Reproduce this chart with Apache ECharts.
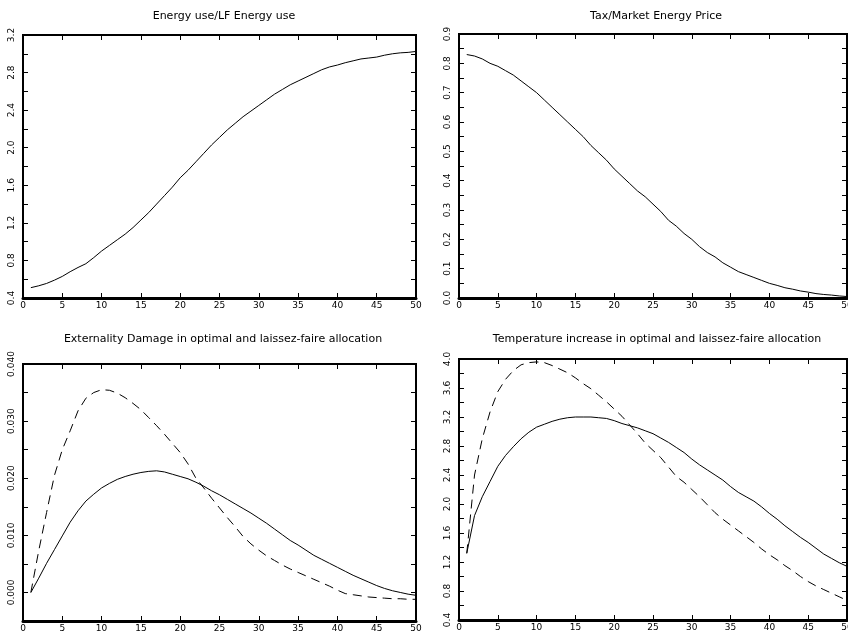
<!DOCTYPE html>
<html lang="en">
  <head>
    <meta charset="UTF-8" />
    <title>Optimal vs laissez-faire</title>
    <script src="https://cdn.jsdelivr.net/npm/echarts@6/dist/echarts.min.js"></script>
    <style>
      html, body { margin: 0; padding: 0; background: #fff; }
      #chart { width: 848px; height: 639px; }
    </style>
  </head>
  <body>
    <div id="chart"></div>
    <script>
      // periods 1..50
      var periods = [1, 2, 3, 4, 5, 6, 7, 8, 9, 10, 11, 12, 13, 14, 15, 16, 17, 18, 19, 20,
        21, 22, 23, 24, 25, 26, 27, 28, 29, 30, 31, 32, 33, 34, 35, 36, 37, 38, 39, 40,
        41, 42, 43, 44, 45, 46, 47, 48, 49, 50];

      var energyRatio = [0.51, 0.53, 0.555, 0.59, 0.63, 0.68, 0.725, 0.765, 0.83, 0.9,
        0.96, 1.02, 1.08, 1.15, 1.23, 1.31, 1.40, 1.49, 1.58, 1.68,
        1.76, 1.85, 1.94, 2.03, 2.11, 2.19, 2.26, 2.33, 2.39, 2.45,
        2.51, 2.57, 2.62, 2.67, 2.71, 2.75, 2.79, 2.83, 2.86, 2.88,
        2.905, 2.925, 2.945, 2.955, 2.965, 2.985, 3.0, 3.01, 3.015, 3.025];

      var taxPrice = [0.83, 0.825, 0.815, 0.80, 0.79, 0.775, 0.76, 0.74, 0.72, 0.70,
        0.675, 0.65, 0.625, 0.60, 0.575, 0.55, 0.52, 0.495, 0.47, 0.44,
        0.415, 0.39, 0.365, 0.345, 0.32, 0.295, 0.265, 0.245, 0.22, 0.20,
        0.175, 0.155, 0.14, 0.12, 0.105, 0.09, 0.08, 0.07, 0.06, 0.05,
        0.043, 0.035, 0.03, 0.024, 0.02, 0.015, 0.012, 0.01, 0.007, 0.005];

      var damageOpt = [0.0, 0.0025, 0.0051, 0.0075, 0.0099, 0.0123, 0.0143, 0.0160, 0.0172, 0.0183,
        0.0191, 0.0198, 0.0203, 0.0207, 0.0210, 0.0212, 0.0213, 0.0211, 0.0207, 0.0203,
        0.0199, 0.0193, 0.0186, 0.0178, 0.0171, 0.0163, 0.0155, 0.0147, 0.0139, 0.0130,
        0.0121, 0.0111, 0.0101, 0.0091, 0.0083, 0.0074, 0.0065, 0.0058, 0.0051, 0.0044,
        0.0037, 0.0030, 0.0024, 0.0018, 0.0012, 0.0007, 0.0003, 0.0, -0.0003, -0.0005];

      var damageLF = [0.0, 0.0073, 0.0140, 0.0205, 0.0250, 0.0283, 0.0318, 0.0340, 0.0350, 0.0355,
        0.0354, 0.0349, 0.0341, 0.0331, 0.0320, 0.0306, 0.0292, 0.0277, 0.0261, 0.0245,
        0.0225, 0.0200, 0.0183, 0.0165, 0.0148, 0.0131, 0.0115, 0.0098, 0.0085, 0.0074,
        0.0064, 0.0056, 0.0048, 0.0041, 0.0035, 0.0029, 0.0023, 0.0017, 0.0011, 0.0004,
        -0.0002, -0.0004, -0.0006, -0.0008, -0.0009, -0.0010, -0.0011, -0.0011, -0.0012, -0.0012];

      var tempOpt = [1.32, 1.84, 2.10, 2.31, 2.52, 2.67, 2.79, 2.90, 2.99, 3.06,
        3.10, 3.14, 3.17, 3.19, 3.20, 3.20, 3.20, 3.19, 3.18, 3.15,
        3.11, 3.08, 3.05, 3.01, 2.97, 2.91, 2.85, 2.78, 2.71, 2.62,
        2.54, 2.47, 2.40, 2.33, 2.24, 2.16, 2.10, 2.04, 1.96, 1.87,
        1.79, 1.70, 1.62, 1.54, 1.47, 1.39, 1.31, 1.25, 1.19, 1.14];

      var tempLF = [1.32, 2.40, 2.90, 3.27, 3.55, 3.72, 3.84, 3.92, 3.95, 3.96,
        3.95, 3.91, 3.86, 3.81, 3.74, 3.66, 3.59, 3.50, 3.41, 3.31,
        3.21, 3.09, 2.97, 2.84, 2.74, 2.64, 2.51, 2.38, 2.30, 2.20,
        2.10, 1.99, 1.88, 1.79, 1.71, 1.63, 1.55, 1.47, 1.38, 1.30,
        1.23, 1.15, 1.08, 1.00, 0.93, 0.87, 0.82, 0.77, 0.72, 0.67];

      var titles = [
        "Energy use/LF Energy use",
        "Tax/Market Energy Price",
        "Externality Damage in optimal and laissez-faire allocation",
        "Temperature increase in optimal and laissez-faire allocation",
      ];

      // y scales: [min, max, tick step, label step, decimals]
      var yScales = [
        [0.4, 3.2, 0.2, 0.4, 1],
        [0.0, 0.9, 0.05, 0.1, 1],
        [-0.005, 0.04, 0.005, 0.01, 3],
        [0.4, 4.0, 0.2, 0.4, 1],
      ];

      var grids = [
        { left: 23, top: 35, width: 393, height: 263 },
        { left: 459, top: 34, width: 388, height: 264 },
        { left: 23, top: 364, width: 393, height: 257 },
        { left: 459, top: 359, width: 388, height: 261 },
      ];
      var titleCenters = [[219, 6], [651, 6], [218, 329], [652, 329]];

      function pairs(ys) {
        return periods.map(function (p, i) { return [p, ys[i]]; });
      }

      var font = "DejaVu Sans";
      var option = {
        animation: false,
        backgroundColor: "#fff",
        title: [],
        grid: [],
        xAxis: [],
        yAxis: [],
        series: [],
      };

      grids.forEach(function (g, i) {
        option.grid.push(Object.assign({
          show: true, borderColor: "#000", borderWidth: 2,
          containLabel: false, outerBoundsMode: "none",
        }, g));
        option.title.push({
          text: titles[i],
          left: titleCenters[i][0],
          top: titleCenters[i][1],
          textAlign: "center",
          textStyle: { fontFamily: font, fontSize: 11, fontWeight: "normal", color: "#000" },
        });
        var tick = { show: true, inside: true, length: 5, lineStyle: { color: "#000", width: 1 } };
        var line = { show: true, onZero: false, lineStyle: { color: "#000", width: 2 } };
        option.xAxis.push({
          gridIndex: i, type: "value", position: "bottom", min: 0, max: 50, interval: 5,
          axisLine: { show: true, onZero: false, lineStyle: { color: "#000", width: 3 } },
          axisTick: tick, splitLine: { show: false },
          axisLabel: { margin: 3, fontFamily: font, fontSize: 9, color: "#000", hideOverlap: false },
        });
        option.xAxis.push({
          gridIndex: i, type: "value", position: "top", min: 0, max: 50, interval: 5,
          axisLine: line, axisTick: tick, splitLine: { show: false }, axisLabel: { show: false },
        });
        var s = yScales[i];
        option.yAxis.push({
          gridIndex: i, type: "value", position: "left", min: s[0], max: s[1], interval: s[2],
          axisLine: line, axisTick: tick, splitLine: { show: false },
          axisLabel: {
            rotate: 90, margin: 7, fontFamily: font, fontSize: 9, color: "#000",
            formatter: function (v) {
              var onLabel = Math.abs(Math.round(v / s[3]) * s[3] - v) < s[2] / 10;
              return onLabel ? v.toFixed(s[4]) : "";
            },
          },
        });
        option.yAxis.push({
          gridIndex: i, type: "value", position: "right", min: s[0], max: s[1], interval: s[2],
          axisLine: line, axisTick: tick, splitLine: { show: false }, axisLabel: { show: false },
        });
      });

      var solid = { color: "#000", width: 1, type: "solid" };
      var dashed = { color: "#000", width: 1, type: [9, 6] };
      function addSeries(idx, data, style) {
        option.series.push({
          type: "line", xAxisIndex: idx * 2, yAxisIndex: idx * 2,
          data: pairs(data), showSymbol: false, symbol: "none",
          lineStyle: style, silent: true,
        });
      }
      addSeries(0, energyRatio, solid);
      addSeries(1, taxPrice, solid);
      addSeries(2, damageOpt, solid);
      addSeries(2, damageLF, dashed);
      addSeries(3, tempOpt, solid);
      addSeries(3, tempLF, dashed);

      var mCharts = echarts.init(document.getElementById("chart"));
      mCharts.setOption(option);
    </script>
  </body>
</html>
